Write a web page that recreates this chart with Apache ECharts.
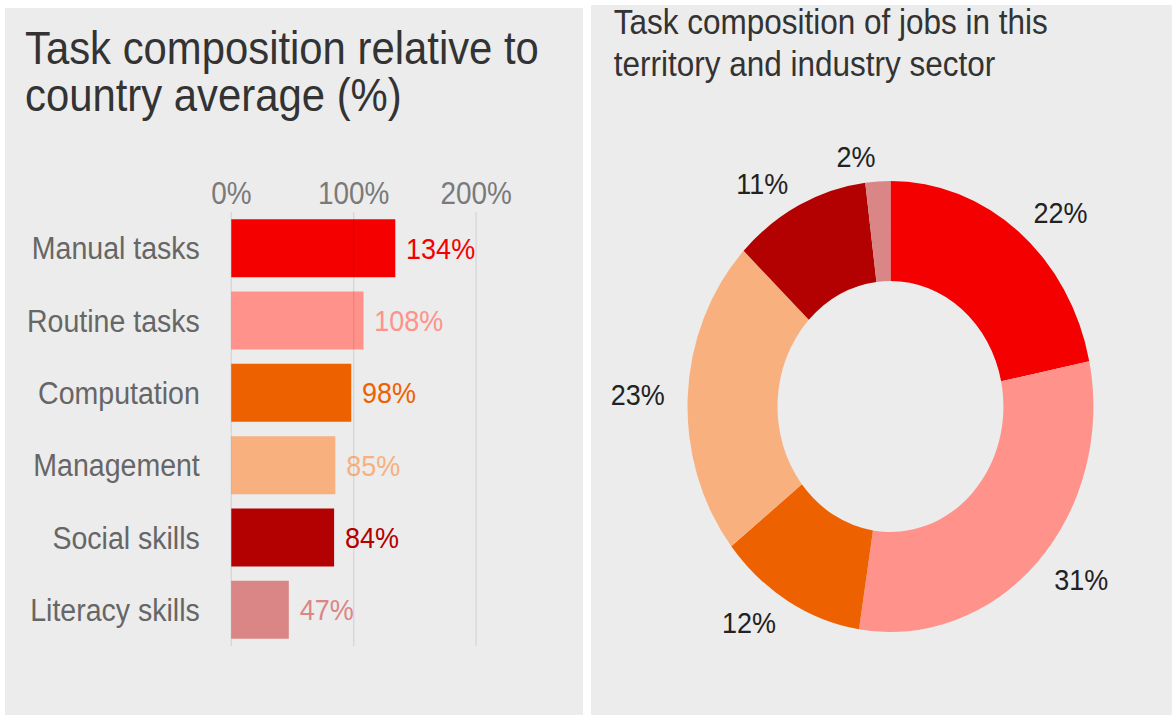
<!DOCTYPE html>
<html>
<head>
<meta charset="utf-8">
<script src="https://cdn.jsdelivr.net/npm/echarts@6/dist/echarts.min.js"></script>
<style>
  html, body { margin: 0; padding: 0; background: #ffffff; overflow: hidden; }
  /* the dashboard is laid out on a wider canvas and narrowed to the window */
  #wrap { width: 1302px; height: 715px; transform: scaleX(0.9); transform-origin: 0 0; }
  #main { width: 1302px; height: 715px; }
</style>
</head>
<body>
<div id="wrap"><div id="main"></div></div>
<script>
// Task categories (shared by both panels)
const categories = ['Manual tasks', 'Routine tasks', 'Computation', 'Management', 'Social skills', 'Literacy skills'];
// Task composition relative to the country average, in %
const relativeValues = [134, 108, 98, 85, 84, 47];
// Share of each task in jobs of this territory and sector, in %
const shareValues = [22, 31, 12, 23, 11, 2];
// One colour per task
const taskColors = ['#f40000', '#ff928a', '#ee6100', '#f8b07e', '#b30000', '#db8686'];
// Relative-scale ticks
const relativeTicks = [0, 100, 200];

const FONT = '"Liberation Sans", Arial, Helvetica, sans-serif';
const PANEL = '#ececec';

const chart = echarts.init(document.getElementById('main'), null, { renderer: 'svg' });

const barData = relativeValues.map((v, i) => ({
  value: v,
  itemStyle: { color: taskColors[i] },
  label: { color: taskColors[i] }
}));

const pieData = shareValues.map((v, i) => ({
  name: categories[i],
  value: v,
  itemStyle: { color: taskColors[i] }
}));

chart.setOption({
  animation: false,
  backgroundColor: '#ffffff',
  textStyle: { fontFamily: FONT },
  graphic: [
    { type: 'rect', z: -10, silent: true, shape: { x: 5.6, y: 8, width: 642.2, height: 707 }, style: { fill: PANEL } },
    { type: 'rect', z: -10, silent: true, shape: { x: 656.7, y: 5, width: 646, height: 710 }, style: { fill: PANEL } }
  ],
  title: [
    {
      text: 'Task composition relative to\ncountry average (%)',
      left: 27.8, top: 24, padding: 0,
      textStyle: { fontFamily: FONT, fontSize: 46.5, lineHeight: 47, fontWeight: 'normal', color: '#333333' }
    },
    {
      text: 'Task composition of jobs in this\nterritory and industry sector',
      left: 682, top: 1, padding: 0,
      textStyle: { fontFamily: FONT, fontSize: 35, lineHeight: 42, fontWeight: 'normal', color: '#333333' }
    }
  ],
  grid: { left: 257, top: 212, width: 272, height: 434, containLabel: false },
  xAxis: {
    type: 'value',
    position: 'top',
    min: relativeTicks[0],
    max: relativeTicks[relativeTicks.length - 1],
    interval: relativeTicks[1] - relativeTicks[0],
    z: 5,
    axisLine: { show: false },
    axisTick: { show: false },
    axisLabel: { formatter: '{value}%', fontFamily: FONT, fontSize: 31, color: '#7a7a7a', margin: 4 },
    splitLine: { show: true, lineStyle: { color: 'rgba(0,0,0,0.09)', width: 1.5 } }
  },
  yAxis: {
    type: 'category',
    inverse: true,
    data: categories,
    axisLine: { show: false },
    axisTick: { show: false },
    axisLabel: { fontFamily: FONT, fontSize: 31.7, color: '#666666', margin: 35 }
  },
  series: [
    {
      type: 'bar',
      data: barData,
      barWidth: 58,
      z: 2,
      label: { show: true, position: 'right', distance: 12, formatter: '{c}%', fontFamily: FONT, fontSize: 30 },
      emphasis: { disabled: true }
    },
    {
      type: 'pie',
      center: [989.4, 406.5],
      radius: [125.5, 225.5],
      startAngle: 90,
      clockwise: true,
      avoidLabelOverlap: false,
      data: pieData,
      label: {
        show: true, position: 'outside', formatter: '{c}%', distanceToLabelLine: 1,
        fontFamily: FONT, fontSize: 30, color: '#222222'
      },
      labelLine: { show: false, length: 24.5, length2: 0 },
      itemStyle: { borderWidth: 0 },
      emphasis: { disabled: true },
      silent: true
    }
  ]
});
</script>
</body>
</html>
